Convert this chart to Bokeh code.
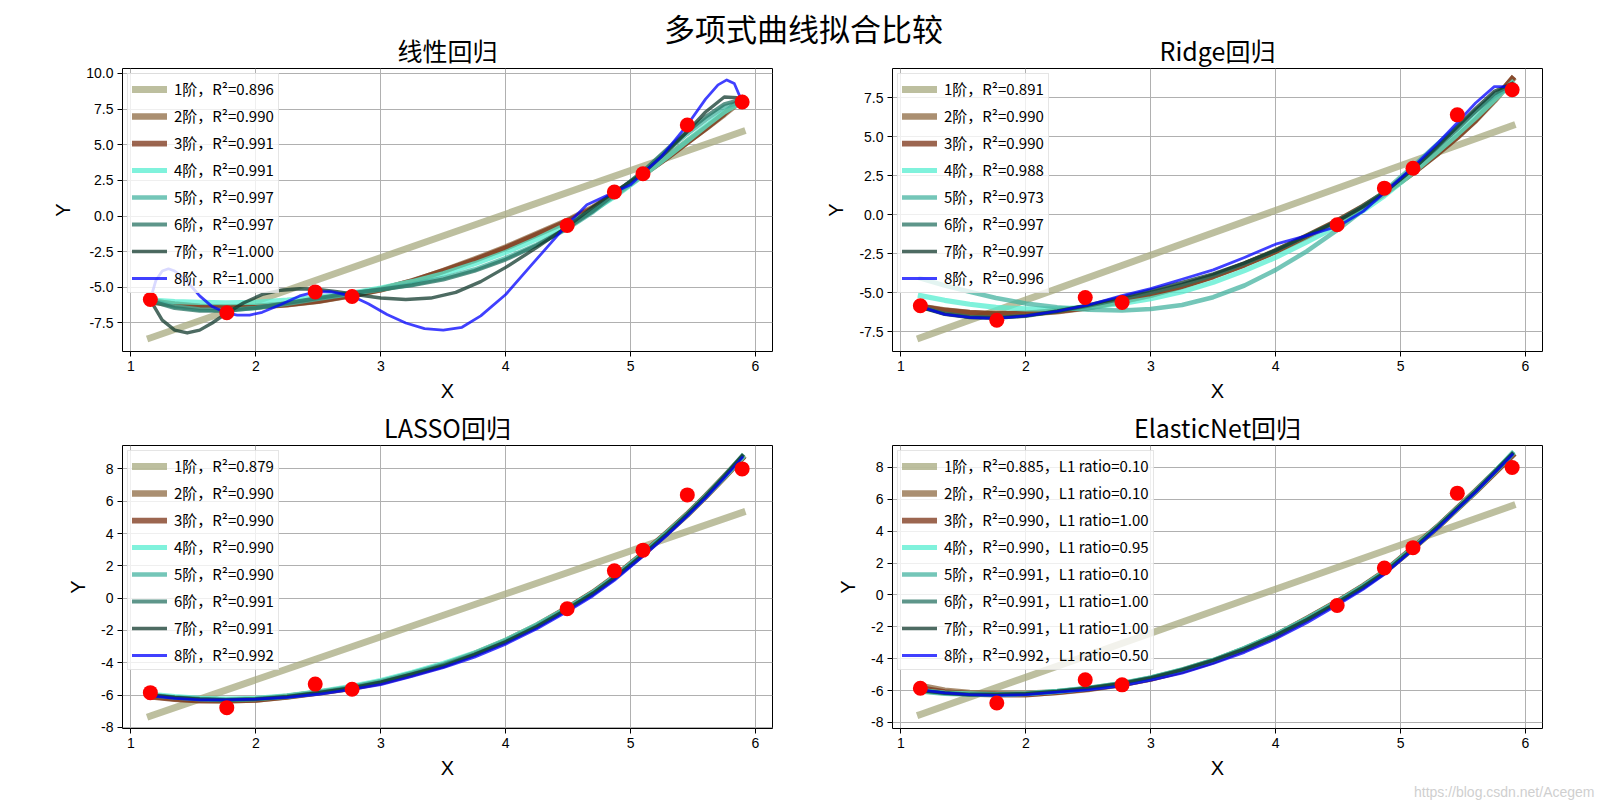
import numpy as np
from bokeh.plotting import figure
from bokeh.models import Range1d, FixedTicker, Label, PrintfTickFormatter, Title
from bokeh.layouts import column, row
from bokeh.embed import file_html
from bokeh.resources import INLINE

# ---------------- data ----------------
x_pts = [1.155, 1.767, 2.475, 2.770, 4.492, 4.870, 5.099, 5.454, 5.893]
y_pts = [-5.85, -6.78, -5.32, -5.64, -0.66, 1.69, 2.97, 6.39, 8.00]

x_ticks = [1, 2, 3, 4, 5, 6]
y_ticks_a = [-7.5, -5.0, -2.5, 0.0, 2.5, 5.0, 7.5, 10.0]
y_ticks_b = [-8, -6, -4, -2, 0, 2, 4, 6, 8]

degrees = [1, 2, 3, 4, 5, 6, 7, 8]

x_ends = [1.155, 5.893]
x_grid = [1.155, 1.35, 1.55, 1.76, 2.0, 2.25, 2.5, 2.77, 3.0, 3.25, 3.5, 3.75,
          4.0, 4.25, 4.5, 4.7, 4.87, 5.1, 5.3, 5.45, 5.6, 5.75, 5.893]
x_lin7 = [1.155, 1.25, 1.35, 1.45, 1.55, 1.65, 1.76, 1.9, 2.05, 2.2, 2.35, 2.5,
          2.65, 2.8, 3.0, 3.2, 3.4, 3.6, 3.8, 4.0, 4.25, 4.5, 4.7, 4.87, 5.1,
          5.3, 5.45, 5.6, 5.75, 5.85, 5.893]
x_lin8 = [1.155, 1.2, 1.25, 1.3, 1.35, 1.45, 1.55, 1.65, 1.76, 1.85, 1.95, 2.05,
          2.2, 2.35, 2.478, 2.6, 2.772, 2.9, 3.05, 3.2, 3.35, 3.5, 3.65, 3.8,
          4.0, 4.2, 4.35, 4.488, 4.65, 4.871, 5.0, 5.097, 5.25, 5.455, 5.6,
          5.7, 5.77, 5.83, 5.893]

# 线性回归
lin_1 = [-8.55, 5.92]
lin_2 = [-6.0, -6.2, -6.35, -6.4, -6.35, -6.2, -5.95, -5.55, -5.15, -4.6, -3.85, -3.05,
         -2.2, -1.25, -0.3, 0.6, 1.5, 2.95, 4.2, 5.2, 6.15, 7.15, 8.15]
lin_3 = [-5.95, -6.2, -6.35, -6.4, -6.35, -6.2, -5.95, -5.55, -5.15, -4.55, -3.85, -3.1,
         -2.25, -1.3, -0.35, 0.55, 1.45, 2.9, 4.15, 5.15, 6.15, 7.2, 8.25]
lin_4 = [-5.9, -6.0, -6.05, -6.08, -6.05, -5.9, -5.7, -5.4, -5.05, -4.6, -4.05, -3.35,
         -2.55, -1.6, -0.55, 0.4, 1.35, 2.85, 4.2, 5.25, 6.3, 7.3, 8.05]
lin_5 = [-5.9, -6.35, -6.55, -6.6, -6.45, -6.15, -5.8, -5.45, -5.15, -4.8, -4.35, -3.75,
         -2.95, -2.0, -0.85, 0.3, 1.45, 3.1, 4.65, 5.75, 6.75, 7.65, 8.05]
lin_6 = [-5.95, -6.45, -6.65, -6.65, -6.45, -6.1, -5.75, -5.4, -5.15, -4.85, -4.45, -3.85,
         -3.05, -2.05, -0.8, 0.35, 1.55, 3.15, 4.75, 5.9, 6.95, 7.85, 8.2]
lin_7 = [-5.9, -7.3, -8.0, -8.2, -8.0, -7.5, -6.85, -6.1, -5.5, -5.2, -5.1, -5.15,
         -5.3, -5.5, -5.75, -5.85, -5.75, -5.35, -4.6, -3.6, -2.2, -0.7, 0.65, 1.7,
         3.0, 4.6, 5.9, 7.3, 8.35, 8.3, 8.0]
lin_8 = [-5.85, -4.5, -3.85, -3.7, -3.85, -4.6, -5.6, -6.35, -6.78, -6.95, -6.95, -6.75,
         -6.2, -5.6, -5.32, -5.3, -5.62, -6.15, -6.9, -7.5, -7.9, -8.0, -7.8, -7.0,
         -5.5, -3.5, -2.0, -0.63, 0.8, 1.68, 2.2, 2.98, 4.2, 6.40, 8.2, 9.2, 9.55, 9.3, 8.02]
lin_r2 = ["0.896", "0.990", "0.991", "0.991", "0.997", "0.997", "1.000", "1.000"]

# Ridge回归
ridge_1 = [-7.9, 5.7]
ridge_2 = [-5.9, -6.15, -6.3, -6.38, -6.35, -6.2, -5.95, -5.55, -5.15, -4.6, -3.95, -3.2,
           -2.35, -1.4, -0.4, 0.5, 1.35, 2.7, 3.95, 4.95, 6.05, 7.3, 8.65]
ridge_3 = [-5.9, -6.15, -6.3, -6.38, -6.35, -6.2, -5.95, -5.55, -5.15, -4.6, -3.95, -3.2,
           -2.35, -1.4, -0.4, 0.5, 1.35, 2.7, 3.95, 4.95, 6.05, 7.35, 8.7]
ridge_4 = [-5.2, -5.5, -5.75, -5.95, -6.05, -6.05, -5.95, -5.7, -5.4, -4.95, -4.35, -3.6,
           -2.75, -1.75, -0.7, 0.25, 1.2, 2.7, 4.05, 5.1, 6.2, 7.35, 8.45]
ridge_5 = [-4.1, -4.55, -4.95, -5.35, -5.7, -5.95, -6.1, -6.15, -6.05, -5.8, -5.3, -4.55,
           -3.55, -2.35, -0.95, 0.3, 1.5, 3.1, 4.55, 5.6, 6.65, 7.6, 8.25]
ridge_6 = [-5.9, -6.35, -6.55, -6.6, -6.5, -6.2, -5.85, -5.4, -5.0, -4.5, -3.9, -3.15,
           -2.3, -1.35, -0.4, 0.55, 1.45, 2.95, 4.35, 5.45, 6.6, 7.75, 8.35]
ridge_7 = [-5.95, -6.4, -6.6, -6.65, -6.5, -6.2, -5.8, -5.3, -4.85, -4.35, -3.8, -3.1,
           -2.3, -1.35, -0.4, 0.5, 1.4, 2.9, 4.4, 5.6, 6.8, 7.9, 8.4]
ridge_8 = [-5.9, -6.4, -6.6, -6.65, -6.5, -6.2, -5.8, -5.2, -4.75, -4.15, -3.55, -2.75,
           -1.9, -1.35, -0.75, 0.2, 1.4, 3.05, 4.6, 5.85, 7.15, 8.2, 8.2]
ridge_r2 = ["0.891", "0.990", "0.990", "0.988", "0.973", "0.997", "0.997", "0.996"]

# LASSO回归
lasso_1 = [-7.3, 5.3]
lasso_2 = [-6.05, -6.2, -6.3, -6.33, -6.28, -6.1, -5.85, -5.55, -5.2, -4.7, -4.15, -3.45,
           -2.65, -1.7, -0.6, 0.35, 1.3, 2.75, 4.1, 5.15, 6.3, 7.5, 8.7]
lasso_3 = [-6.1, -6.25, -6.35, -6.35, -6.3, -6.1, -5.85, -5.55, -5.2, -4.7, -4.15, -3.45,
           -2.65, -1.7, -0.6, 0.35, 1.3, 2.75, 4.1, 5.15, 6.3, 7.5, 8.65]
lasso_4 = [-5.95, -6.1, -6.2, -6.25, -6.2, -6.05, -5.8, -5.45, -5.1, -4.6, -4.05, -3.4,
           -2.6, -1.65, -0.6, 0.35, 1.3, 2.75, 4.1, 5.15, 6.3, 7.5, 8.7]
lasso_5 = [-6.0, -6.15, -6.25, -6.3, -6.25, -6.1, -5.85, -5.5, -5.15, -4.65, -4.1, -3.45,
           -2.65, -1.7, -0.6, 0.35, 1.3, 2.75, 4.1, 5.15, 6.3, 7.55, 8.8]
lasso_6 = [-6.0, -6.15, -6.25, -6.3, -6.25, -6.1, -5.85, -5.55, -5.2, -4.7, -4.15, -3.5,
           -2.7, -1.75, -0.65, 0.3, 1.25, 2.7, 4.05, 5.15, 6.3, 7.55, 8.8]
lasso_7 = [-6.0, -6.15, -6.25, -6.3, -6.25, -6.1, -5.85, -5.55, -5.2, -4.7, -4.2, -3.5,
           -2.7, -1.75, -0.65, 0.3, 1.25, 2.7, 4.05, 5.15, 6.3, 7.55, 8.8]
lasso_8 = [-6.05, -6.2, -6.3, -6.3, -6.25, -6.15, -5.95, -5.65, -5.35, -4.85, -4.3, -3.65,
           -2.85, -1.9, -0.8, 0.15, 1.1, 2.6, 3.95, 5.05, 6.2, 7.45, 8.7]
lasso_r2 = ["0.879", "0.990", "0.990", "0.990", "0.990", "0.991", "0.991", "0.992"]

# ElasticNet回归
enet_1 = [-7.5, 5.6]
enet_2 = [-5.7, -6.0, -6.15, -6.2, -6.2, -6.1, -5.9, -5.6, -5.25, -4.75, -4.15, -3.4,
          -2.55, -1.5, -0.4, 0.55, 1.45, 2.95, 4.3, 5.4, 6.5, 7.65, 8.75]
enet_3 = [-5.85, -6.1, -6.2, -6.25, -6.25, -6.1, -5.9, -5.6, -5.25, -4.75, -4.15, -3.4,
          -2.55, -1.5, -0.4, 0.55, 1.45, 2.95, 4.3, 5.4, 6.5, 7.65, 8.75]
enet_4 = [-6.0, -6.15, -6.2, -6.25, -6.2, -6.05, -5.85, -5.55, -5.2, -4.7, -4.1, -3.35,
          -2.5, -1.5, -0.4, 0.55, 1.45, 2.95, 4.3, 5.4, 6.5, 7.7, 8.85]
enet_5 = [-6.05, -6.2, -6.25, -6.25, -6.2, -6.05, -5.85, -5.55, -5.2, -4.7, -4.1, -3.35,
          -2.5, -1.5, -0.4, 0.55, 1.45, 2.95, 4.3, 5.4, 6.5, 7.7, 8.9]
enet_6 = [-6.0, -6.15, -6.25, -6.25, -6.2, -6.05, -5.85, -5.55, -5.2, -4.7, -4.1, -3.4,
          -2.55, -1.55, -0.45, 0.5, 1.4, 2.9, 4.3, 5.4, 6.5, 7.7, 8.85]
enet_7 = [-6.0, -6.15, -6.25, -6.25, -6.2, -6.05, -5.85, -5.55, -5.2, -4.7, -4.1, -3.4,
          -2.55, -1.55, -0.45, 0.5, 1.4, 2.9, 4.3, 5.4, 6.5, 7.7, 8.85]
enet_8 = [-5.95, -6.15, -6.25, -6.3, -6.25, -6.1, -5.95, -5.7, -5.35, -4.9, -4.3, -3.6,
          -2.75, -1.75, -0.6, 0.35, 1.3, 2.85, 4.2, 5.35, 6.45, 7.65, 8.8]
enet_r2 = ["0.885", "0.990", "0.990", "0.990", "0.991", "0.991", "0.991", "0.992"]
enet_l1 = ["0.10", "0.10", "1.00", "0.95", "0.10", "1.00", "1.00", "0.50"]

# ---------------- styles ----------------
colors = ["#A7AA7F", "#8E6A42", "#7B3316", "#56EED0", "#46B3A0", "#287363", "#123A2E", "#0000FF"]
widths = [6.94, 6.35, 5.75, 5.16, 4.56, 3.97, 3.37, 2.78]
FONT = "Noto Sans CJK SC"
LATIN = "Liberation Sans"

panels = [
    dict(title="线性回归", xs=[x_ends, x_grid, x_grid, x_grid, x_grid, x_grid, x_lin7, x_lin8],
         ys=[lin_1, lin_2, lin_3, lin_4, lin_5, lin_6, lin_7, lin_8], r2=lin_r2, l1=None,
         yr=(-9.5, 10.35), yt=y_ticks_a, fmt="%.1f"),
    dict(title="Ridge回归", xs=[x_ends] + [x_grid] * 7,
         ys=[ridge_1, ridge_2, ridge_3, ridge_4, ridge_5, ridge_6, ridge_7, ridge_8], r2=ridge_r2, l1=None,
         yr=(-8.78, 9.36), yt=y_ticks_a, fmt="%.1f"),
    dict(title="LASSO回归", xs=[x_ends] + [x_grid] * 7,
         ys=[lasso_1, lasso_2, lasso_3, lasso_4, lasso_5, lasso_6, lasso_7, lasso_8], r2=lasso_r2, l1=None,
         yr=(-8.07, 9.45), yt=y_ticks_b, fmt="%d"),
    dict(title="ElasticNet回归", xs=[x_ends] + [x_grid] * 7,
         ys=[enet_1, enet_2, enet_3, enet_4, enet_5, enet_6, enet_7, enet_8], r2=enet_r2, l1=enet_l1,
         yr=(-8.38, 9.38), yt=y_ticks_b, fmt="%d"),
]

HEAD_H = 52
OVERLAP = 24


def make_panel(cfg, left, top):
    p = figure(
        title=cfg["title"],
        width=812 if left else 792,
        height=377 if top else 406,
        min_border_left=122 if left else 80,
        min_border_right=40 if left else 62,
        min_border_top=40,
        min_border_bottom=54 if top else 83,
        x_range=Range1d(0.932, 6.136),
        y_range=Range1d(*cfg["yr"]),
        toolbar_location=None,
        output_backend="svg",
    )
    p.border_fill_alpha = 0
    p.title.align = "center"
    p.title.text_font = FONT
    p.title.text_font_size = "25px"
    p.title.text_font_style = "normal"
    p.title.text_color = "black"
    p.title.standoff = 1

    for i, d in enumerate(degrees):
        if cfg["l1"] is None:
            lab = f"{d}阶，R²={cfg['r2'][i]}"
        else:
            lab = f"{d}阶，R²={cfg['r2'][i]}，L1 ratio={cfg['l1'][i]}"
        p.line(cfg["xs"][i], cfg["ys"][i], line_color=colors[i], line_alpha=0.75,
               line_width=widths[i], line_cap="square", line_join="round", legend_label=lab)
    p.scatter(x_pts, y_pts, size=15, fill_color="red", line_color=None)

    p.xaxis.ticker = FixedTicker(ticks=x_ticks)
    p.yaxis.ticker = FixedTicker(ticks=cfg["yt"])
    p.xaxis.formatter = PrintfTickFormatter(format="%d")
    p.yaxis.formatter = PrintfTickFormatter(format=cfg["fmt"])
    p.xaxis.axis_label = "X"
    p.yaxis.axis_label = "Y"
    for ax in (p.xaxis, p.yaxis):
        ax.axis_label_text_font = LATIN
        ax.axis_label_text_font_size = "20px"
        ax.axis_label_text_font_style = "normal"
        ax.axis_label_text_color = "black"
        ax.major_label_text_font = LATIN
        ax.major_label_text_font_size = "14px"
        ax.major_label_text_color = "black"
        ax.axis_line_color = None
        ax.major_tick_in = 0
        ax.major_tick_out = 5
        ax.major_tick_line_color = "black"
        ax.minor_tick_line_color = None
        ax.major_label_standoff = 4
    p.xaxis.axis_label_standoff = 6
    p.yaxis.axis_label_standoff = 9

    p.grid.grid_line_color = "#b0b0b0"
    p.grid.grid_line_width = 1
    p.outline_line_color = "black"
    p.outline_line_width = 1
    p.outline_line_alpha = 1

    lg = p.legend[0]
    lg.location = "top_left"
    lg.margin = 5
    lg.padding = 4
    lg.spacing = 6
    lg.glyph_width = 35
    lg.glyph_height = 20
    lg.label_height = 20
    lg.label_standoff = 7
    lg.label_text_font = FONT
    lg.label_text_font_size = "15px"
    lg.label_text_color = "black"
    lg.background_fill_alpha = 0.8
    lg.border_line_color = "#cccccc"
    lg.border_line_width = 1
    return p


p_tl = make_panel(panels[0], True, True)
p_tr = make_panel(panels[1], False, True)
p_bl = make_panel(panels[2], True, False)
p_br = make_panel(panels[3], False, False)

p_br.add_layout(Title(text="https://blog.csdn.net/Acegem", align="right", offset=-52,
                      text_font=LATIN, text_font_size="14px",
                      text_font_style="normal", text_color="#cfcfcf", standoff=0), "below")

# header carrying the overall title (transparent, the first row slides under it)
head = figure(width=1604, height=HEAD_H, min_border=0, x_range=Range1d(0, 1604),
              y_range=Range1d(0, HEAD_H), x_axis_location=None, y_axis_location=None,
              toolbar_location=None, output_backend="svg", margin=(0, 0, -OVERLAP, 0))
head.outline_line_color = None
head.border_fill_alpha = 0
head.background_fill_alpha = 0
head.grid.visible = False
head.add_layout(Label(x=803, y=HEAD_H - 26.6, text="多项式曲线拟合比较", text_align="center",
                      text_baseline="middle", text_font=FONT, text_font_size="31px",
                      text_color="black"))

layout = column(head, row(p_tl, p_tr), row(p_bl, p_br))
open("out.html", "w").write(file_html(layout, INLINE))
